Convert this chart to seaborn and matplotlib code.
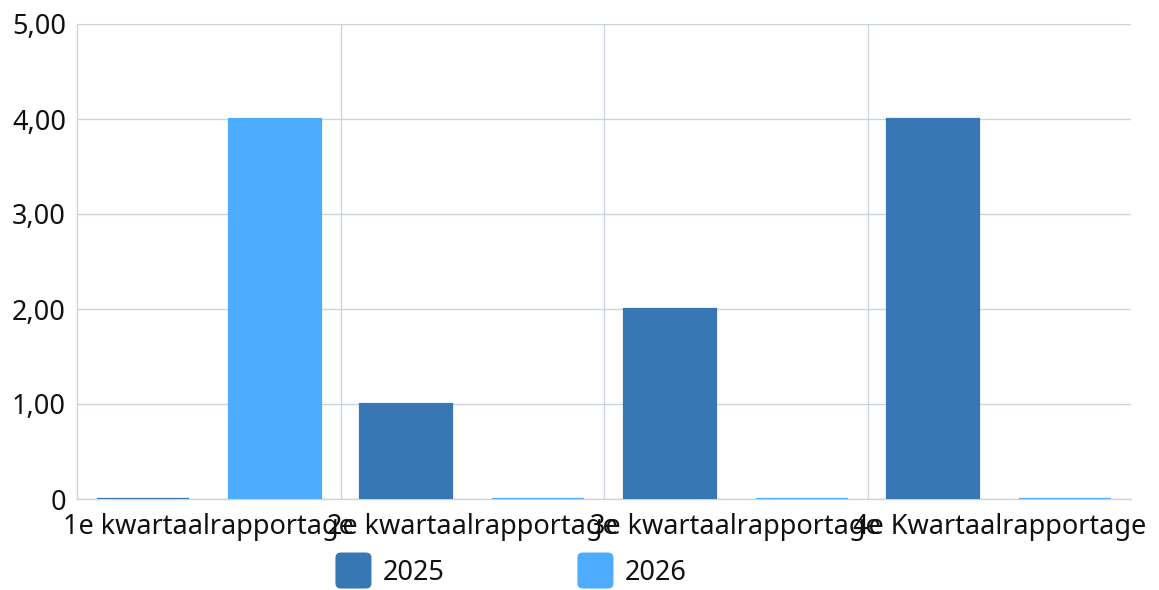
import matplotlib
matplotlib.use("Agg")
import matplotlib.pyplot as plt
from matplotlib.patches import FancyBboxPatch, Patch
from matplotlib.legend_handler import HandlerPatch
from matplotlib.ticker import FixedLocator, FuncFormatter
import pandas as pd
import seaborn as sns

# Rapportage per kwartaal, per jaar
categories = ["1e kwartaalrapportage", "2e kwartaalrapportage",
              "3e kwartaalrapportage", "4e Kwartaalrapportage"]
years = ["2025", "2026"]
values_2025 = [0, 1, 2, 4]
values_2026 = [4, 0, 0, 0]
y_ticks = [0, 1, 2, 3, 4, 5]

colors = {"2025": "#3777B3", "2026": "#4DACFF"}
grid_color = "#CBD3DE"
font_size = 19.5

df = pd.DataFrame({
    "kwartaal": categories * 2,
    "jaar": ["2025"] * 4 + ["2026"] * 4,
    "aantal": values_2025 + values_2026,
})

sns.set_theme(style="white")
plt.rcParams["font.family"] = ["Noto Sans", "DejaVu Sans"]

fig = plt.figure(figsize=(11.59, 5.90), dpi=100)
ax = fig.add_axes([77 / 1159, 91 / 590, (1131 - 77) / 1159, (499 - 24) / 590])

sns.barplot(data=df, x="kwartaal", y="aantal", hue="jaar", order=categories,
            hue_order=years, palette=colors, saturation=1, width=1.0, gap=0.3,
            errorbar=None, legend=False, ax=ax, zorder=3)

# zero-height bars still show as a thin line
for container, year in zip(ax.containers, years):
    for bar in container:
        bar.set_edgecolor(colors[year])
        bar.set_linewidth(1.6)

ax.set_xlim(-0.5, len(categories) - 0.5)
ax.set_ylim(0, 5)
ax.yaxis.set_major_locator(FixedLocator(y_ticks))
ax.yaxis.set_major_formatter(
    FuncFormatter(lambda v, _: "0" if v == 0 else f"{v:.2f}".replace(".", ",")))
ax.xaxis.set_minor_locator(FixedLocator([i + 0.5 for i in range(len(categories) - 1)]))

ax.grid(axis="y", which="major", color=grid_color, linewidth=1.0, zorder=0)
ax.grid(axis="x", which="minor", color=grid_color, linewidth=1.0, zorder=0)
ax.grid(axis="x", which="major", visible=False)

for side in ["top", "right"]:
    ax.spines[side].set_visible(False)
for side in ["left", "bottom"]:
    ax.spines[side].set_color(grid_color)
    ax.spines[side].set_linewidth(1.0)

ax.tick_params(axis="both", which="both", length=0, labelsize=font_size,
               labelcolor="#111111")
ax.tick_params(axis="y", pad=8)
ax.tick_params(axis="x", pad=10)
ax.set_xlabel("")
ax.set_ylabel("")


class RoundedSquare(HandlerPatch):
    """Legend key drawn as a square with rounded corners."""

    def create_artists(self, legend, orig_handle, xdescent, ydescent,
                       width, height, fontsize, trans):
        side = height * 1.9
        x0 = -xdescent + (width - side) / 2
        y0 = -ydescent + (height - side) / 2
        p = FancyBboxPatch((x0, y0), side, side,
                           boxstyle=f"round,pad=0,rounding_size={side * 0.15}",
                           facecolor=orig_handle.get_facecolor(),
                           edgecolor="none", transform=trans)
        return [p]


handles = [Patch(facecolor=colors[y]) for y in years]
fig.legend(handles, years, loc="center left", bbox_to_anchor=(325 / 1159, 17 / 590),
           ncol=2, frameon=False, fontsize=font_size, handlelength=1.3,
           handleheight=0.7, handletextpad=0.45, columnspacing=4.9,
           borderaxespad=0, labelcolor="#111111",
           handler_map={Patch: RoundedSquare()})

fig.savefig("out.png", dpi=100, facecolor="white")
